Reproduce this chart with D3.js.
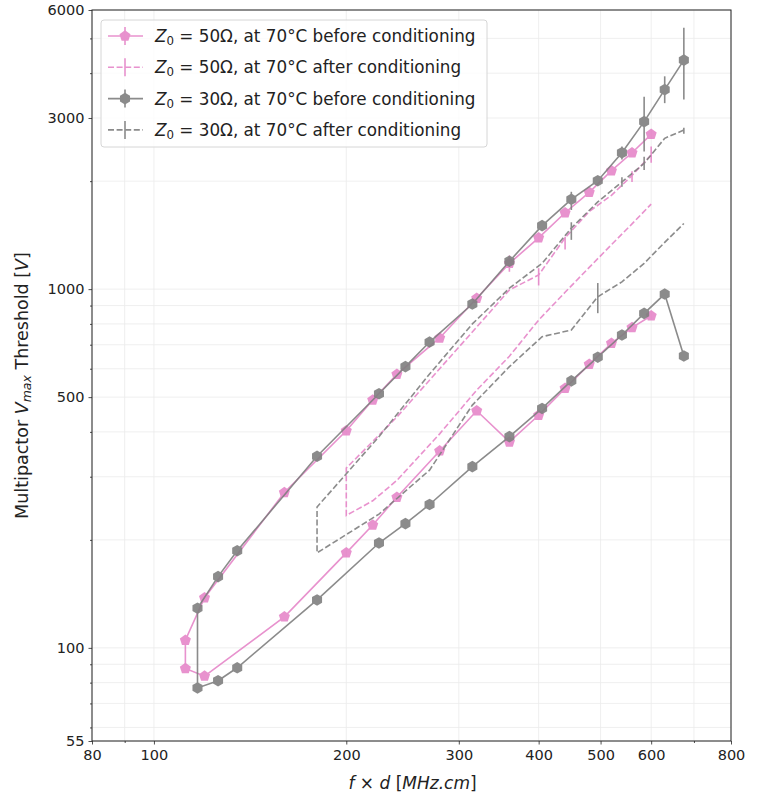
<!DOCTYPE html>
<html>
<head>
<meta charset="utf-8">
<script src="https://cdn.jsdelivr.net/npm/d3@7"></script>
<style>
body { margin: 0; background: #fff; }
text { font-family: "DejaVu Sans", sans-serif; fill: #222; }
</style>
</head>
<body>
<svg id="chart" width="769" height="796"></svg>
<script>
// tick labels
var xTicks = [80, 100, 200, 300, 400, 500, 600, 800];
var xMinor = [90, 700];
var yTicks = [55, 100, 500, 1000, 3000, 6000];
var yMinor = [60, 70, 80, 90, 200, 300, 400, 600, 700, 800, 900, 2000, 4000, 5000];

// Z0 = 50 ohm before conditioning (upper branch then lower branch)
var p50BeforeX = [600, 560, 520, 480, 440, 400, 360, 320, 280, 240, 220, 200, 160, 120, 112,
    112, 120, 160, 200, 220, 240, 280, 320, 360, 400, 440, 480, 520, 560, 600];
var p50BeforeY = [2701, 2400, 2139, 1861, 1633, 1390, 1180, 943, 731, 579, 491, 403, 271, 138, 105,
    87.6, 83.4, 122, 184, 220, 263, 354, 458, 375, 445, 529, 617, 706, 781, 843];
var p50BeforeErr = [null, null, null, null, null, null, [1118, 1242]];

// Z0 = 50 ohm after conditioning
var p50AfterX = [600, 560, 520, 480, 440, 400, 360, 320, 280, 240, 200,
    200, 220, 240, 280, 320, 360, 400, 440, 480, 520, 560, 600];
var p50AfterY = [2366, 2075, 1826, 1647, 1390, 1095, 995, 784, 600, 440, 317,
    234, 257, 293, 395, 523, 650, 820, 980, 1150, 1330, 1520, 1726];
var p50AfterErr = [[2250, 2500], [1990, 2130], null, null, [1290, 1400], [1024, 1144]];

// Z0 = 30 ohm before conditioning
var g30BeforeX = [675, 630, 585, 540, 495, 450, 405, 360, 315, 270, 247.5, 225, 180, 135, 126, 117,
    117, 126, 135, 180, 225, 247.5, 270, 315, 360, 405, 450, 495, 540, 585, 630, 675];
var g30BeforeY = [4350, 3600, 2930, 2400, 2006, 1780, 1503, 1196, 909, 712, 608, 511, 342, 186.5, 158, 129,
    77.3, 81, 88, 136, 196, 222, 251, 320, 388, 465, 555, 646, 745, 856, 969, 651];
var g30BeforeErr = [[3380, 5350], [3300, 3920], [2420, 3440], [2300, 2500], null, [1662, 1868]];

// Z0 = 30 ohm after conditioning
var g30AfterX = [675, 630, 585, 540, 495, 450, 405, 360, 315, 270, 225, 180,
    180, 225, 270, 315, 360, 405, 450, 495, 540, 585, 630, 675];
var g30AfterY = [2777, 2633, 2242, 1990, 1750, 1480, 1180, 1006, 800, 580, 388, 247,
    184, 236, 313, 475, 608, 737, 769, 952, 1048, 1180, 1350, 1524];
var g30AfterErr = [[2710, 2820], null, [2150, 2340], [1930, 2050], null, [1372, 1536],
    null, null, null, null, null, null, null, null, null, null, null, null, null, [857, 1040]];

var pink = "#e377c2";
var gray = "#7f7f7f";

var svg = d3.select("#chart");
var mLeft = 92, mRight = 731, mTop = 10, mBottom = 741;

var x = d3.scaleLog().domain([80, 800]).range([mLeft, mRight]);
var y = d3.scaleLog().domain([55, 6000]).range([mBottom, mTop]);

// grid
var grid = svg.append("g").attr("stroke", "#ebebeb").attr("stroke-width", 0.8);
grid.selectAll("line.gx").data(xTicks.concat(xMinor)).enter().append("line")
    .attr("x1", function (d) { return x(d); }).attr("x2", function (d) { return x(d); })
    .attr("y1", mTop).attr("y2", mBottom);
grid.selectAll("line.gy").data(yTicks.concat(yMinor)).enter().append("line")
    .attr("y1", function (d) { return y(d); }).attr("y2", function (d) { return y(d); })
    .attr("x1", mLeft).attr("x2", mRight);

// axes
var xAxis = svg.append("g").attr("transform", "translate(0," + mBottom + ")")
    .call(d3.axisBottom(x).tickValues(xTicks).tickFormat(d3.format("d")).tickSize(3.5).tickPadding(5));
var xAxisMinor = svg.append("g").attr("transform", "translate(0," + mBottom + ")")
    .call(d3.axisBottom(x).tickValues(xMinor).tickFormat("").tickSize(2));
var yAxis = svg.append("g").attr("transform", "translate(" + mLeft + ",0)")
    .call(d3.axisLeft(y).tickValues(yTicks).tickFormat(d3.format("d")).tickSize(3.5).tickPadding(4));
var yAxisMinor = svg.append("g").attr("transform", "translate(" + mLeft + ",0)")
    .call(d3.axisLeft(y).tickValues(yMinor).tickFormat("").tickSize(2));
[xAxis, xAxisMinor, yAxis, yAxisMinor].forEach(function (a) {
    a.select(".domain").remove();
    a.selectAll("line").attr("stroke", "#222").attr("stroke-width", 0.8);
    a.selectAll("text").attr("font-size", 14.5).attr("font-family", "DejaVu Sans").attr("fill", "#222");
});

svg.append("rect").attr("x", mLeft).attr("y", mTop).attr("width", mRight - mLeft).attr("height", mBottom - mTop)
    .attr("fill", "none").attr("stroke", "#222").attr("stroke-width", 1);

// marker shapes
function polygon(n, r, rot) {
    var pts = d3.range(n).map(function (i) {
        var a = rot + i * 2 * Math.PI / n;
        return [r * Math.sin(a), -r * Math.cos(a)];
    });
    return "M" + pts.join("L") + "Z";
}
var pentagon = polygon(5, 5.8, 0);
var hexagon = polygon(6, 5.8, 0);
var dash = "6,2.6";

function drawSeries(xs, ys, errs, color, opts) {
    var data = xs.map(function (d, i) {
        return { x: d, y: ys[i], err: errs[i] || null };
    });
    var g = svg.append("g").attr("opacity", opts.opacity);
    var line = d3.line().x(function (d) { return x(d.x); }).y(function (d) { return y(d.y); });
    g.selectAll("line.err").data(data.filter(function (d) { return d.err; })).enter().append("line")
        .attr("x1", function (d) { return x(d.x); }).attr("x2", function (d) { return x(d.x); })
        .attr("y1", function (d) { return y(d.err[0]); }).attr("y2", function (d) { return y(d.err[1]); })
        .attr("stroke", color).attr("stroke-width", 1.6);
    g.append("path").datum(data).attr("d", line)
        .attr("fill", "none").attr("stroke", color).attr("stroke-width", 1.6)
        .attr("stroke-dasharray", opts.dashed ? dash : null);
    if (opts.marker) {
        g.selectAll("path.mk").data(data).enter().append("path")
            .attr("d", opts.marker)
            .attr("transform", function (d) { return "translate(" + x(d.x) + "," + y(d.y) + ")"; })
            .attr("fill", color);
    }
}

drawSeries(p50BeforeX, p50BeforeY, p50BeforeErr, pink, { marker: pentagon, opacity: 0.8 });
drawSeries(p50AfterX, p50AfterY, p50AfterErr, pink, { dashed: true, opacity: 0.8 });
drawSeries(g30BeforeX, g30BeforeY, g30BeforeErr, gray, { marker: hexagon, opacity: 0.9 });
drawSeries(g30AfterX, g30AfterY, g30AfterErr, gray, { dashed: true, opacity: 0.9 });

// legend
var legend = svg.append("g");
legend.append("rect").attr("x", 101).attr("y", 20).attr("width", 386).attr("height", 127).attr("rx", 3)
    .attr("fill", "#fff").attr("fill-opacity", 0.8).attr("stroke", "#d6d6d6");
var legendItems = [
    { z: "50", state: "before", color: pink, marker: pentagon, dashed: false, op: 0.8 },
    { z: "50", state: "after", color: pink, marker: null, dashed: true, op: 0.8 },
    { z: "30", state: "before", color: gray, marker: hexagon, dashed: false, op: 0.9 },
    { z: "30", state: "after", color: gray, marker: null, dashed: true, op: 0.9 }
];
legendItems.forEach(function (d, i) {
    var cy = 36 + i * 31.3;
    var h = legend.append("g").attr("opacity", d.op);
    h.append("line").attr("x1", 108).attr("x2", 143).attr("y1", cy).attr("y2", cy)
        .attr("stroke", d.color).attr("stroke-width", 1.6).attr("stroke-dasharray", d.dashed ? dash : null);
    h.append("line").attr("x1", 125).attr("x2", 125).attr("y1", cy - 9).attr("y2", cy + 9)
        .attr("stroke", d.color).attr("stroke-width", 1.6);
    if (d.marker) h.append("path").attr("d", d.marker).attr("transform", "translate(125," + cy + ")").attr("fill", d.color);
    var t = legend.append("text").attr("x", 155).attr("y", cy + 6).attr("font-size", 16.8);
    t.append("tspan").attr("font-style", "italic").text("Z");
    t.append("tspan").attr("font-size", 11.8).attr("dy", 3).text("0");
    t.append("tspan").attr("dy", -3).text(" = " + d.z + "\u03A9, at 70\u00B0C " + d.state + " conditioning");
});

// axis labels
var ylab = svg.append("text").attr("transform", "translate(28," + ((mTop + mBottom) / 2 + 10) + ") rotate(-90)")
    .attr("text-anchor", "middle").attr("font-size", 17.5);
ylab.append("tspan").text("Multipactor ");
ylab.append("tspan").attr("font-style", "italic").text("V");
ylab.append("tspan").attr("font-style", "italic").attr("font-size", 12.5).attr("dy", 3).text("max");
ylab.append("tspan").attr("dy", -3).text(" Threshold [");
ylab.append("tspan").attr("font-style", "italic").text("V");
ylab.append("tspan").text("]");

var xlab = svg.append("text").attr("x", (mLeft + mRight) / 2 + 1).attr("y", 789)
    .attr("text-anchor", "middle").attr("font-size", 17);
xlab.append("tspan").attr("font-style", "italic").text("f");
xlab.append("tspan").text(" \u00D7 ");
xlab.append("tspan").attr("font-style", "italic").text("d");
xlab.append("tspan").text(" [");
xlab.append("tspan").attr("font-style", "italic").text("MHz.cm");
xlab.append("tspan").text("]");
</script>
</body>
</html>
